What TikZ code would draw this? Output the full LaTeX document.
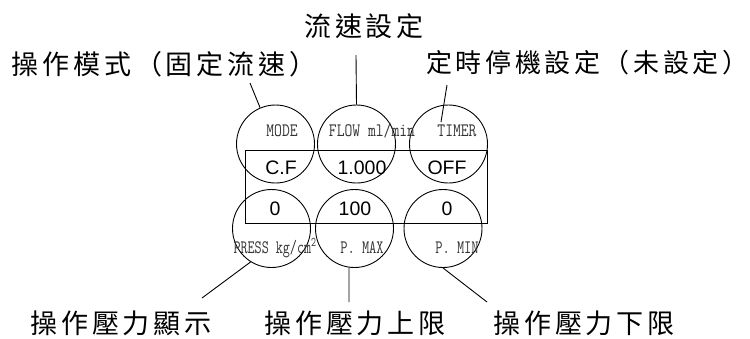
\documentclass[tikz,border=0pt]{standalone}
\usepackage{fontspec}
\usepackage{graphicx}
\usetikzlibrary{positioning}
\newfontfamily\cjk[LetterSpace=14]{Noto Sans CJK TC}
\newfontfamily\valfont{Liberation Sans}
\newcommand\lcd[2][0.8]{\scalebox{#1}[1]{\fontsize{19}{19}\ttfamily #2}}

\begin{document}
\begin{tikzpicture}[x=1pt,y=-1pt,line width=.9pt,
  ring/.style={draw,circle,minimum size=78pt,inner sep=0pt},
  caption/.style={inner sep=0pt,font=\cjk\fontsize{27}{27}\selectfont},
  tag/.style={inner sep=0pt,anchor=base,text=black!80},
  val/.style={inner sep=0pt,anchor=base,font=\valfont\fontsize{19.5}{19.5}\selectfont}]
\useasboundingbox (0,0) rectangle (750,338);
% the six dials
\node[ring] (mode) at (275.5,144) {}; \node[ring] (flow) at (356.5,144) {};
\node[ring] (timer) at (448.5,144) {}; \node[ring] (press) at (271.5,228.5) {};
\node[ring] (pmax) at (354.5,228.5) {}; \node[ring] (pmin) at (443,228.5) {};
\draw (245,150) rectangle (487,223);
% readings
\node[tag] (modetag) at (282,136) {\lcd{MODE}}; \node[tag] (flowtag) at (372,136)
{\lcd{FLOW ml/min}}; \node[tag] (timertag) at (457,136) {\lcd{TIMER}};
\node[tag] (presstag) at (275,253) {\lcd[0.72]{PRESS kg/cm\textsuperscript{2}}};
\node[tag] (pmaxtag) at (362,253) {\lcd[0.74]{P. MAX}}; \node[tag] (pmintag) at
(457,253) {\lcd[0.74]{P. MIN}};
\node[val] (cf) at (281,174) {C.F}; \node[val] (flowval) at (362,174) {1.000};
\node[val] (off) at (447,174) {OFF}; \node[val] (pressval) at (275,215) {0};
\node[val] (pmaxval) at (355,215) {100}; \node[val] (pminval) at (447,215) {0};
% captions
\node[caption] (modelbl) at (164,64) {操作模式（固定流速）};
\node[caption] (flowlbl) at (364,26) {流速設定};
\node[caption,anchor=east,font=\cjk\fontsize{26}{26}\selectfont] (timerlbl) at
(749,63) {定時停機設定（未設定）};
\node[caption] (presslbl) at (121,323) {操作壓力顯示};
\node[caption] (pmaxlbl) at (355,323) {操作壓力上限};
\node[caption] (pminlbl) at (584,323) {操作壓力下限};
\coordinate (modeend) at (250,83); \coordinate (flowend) at (356,55);
\coordinate (timerend) at (447,85); \coordinate (pressend) at (202,298);
\coordinate (pmaxend) at (349,302); \coordinate (pminend) at (487,302);
\draw (modeend) -- (mode.113); \draw (flowend) -- (flow.north);
\draw (timerend) -- ([shift={(-7.5,-22)}]timer.center);
\draw (pressend) -- (press.238); \draw (pmaxend) -- (pmax.262);
\draw (pminend) -- (pmin.south);
\end{tikzpicture}
\end{document}
